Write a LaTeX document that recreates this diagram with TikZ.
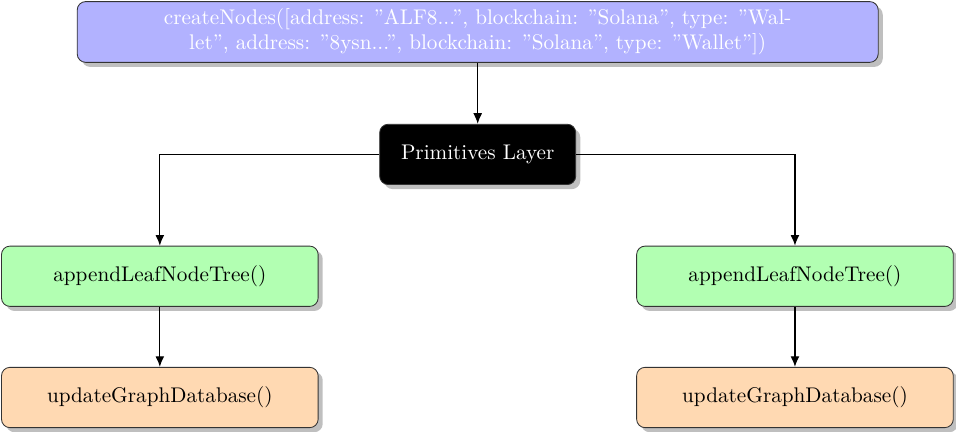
\documentclass[tikz,border=0pt]{standalone}
\usepackage{tikz}
\usetikzlibrary{shadows,arrows.meta}
\usepackage{xcolor}

\begin{document}
\begin{tikzpicture}
		[every node/.style={draw=black!80,rounded corners=4pt,drop shadow,align=center,minimum height=1cm},
		callbox/.style={fill=blue!30,text=white,minimum width=13.28cm},
		layerbox/.style={fill=black,text=white,minimum width=3.25cm},
		leafbox/.style={fill=green!30,minimum width=5.25cm},
		dbbox/.style={fill=orange!30,minimum width=5.25cm},
		link/.style={draw,semithick,-{Latex[length=5pt,width=4.2pt]}}]
		\useasboundingbox (0,0) rectangle (15.85,-7.15);
		\node[callbox] (call) at (7.92,-0.53) {createNodes([address: "ALF8...", blockchain: "Solana", type: "Wal-\\let", address: "8ysn...", blockchain: "Solana", type: "Wallet"])};
		\node[layerbox] (prim) at (7.92,-2.56) {Primitives Layer};
		\node[leafbox] (leafL) at (2.65,-4.58) {appendLeafNodeTree()};
		\node[leafbox] (leafR) at (13.18,-4.58) {appendLeafNodeTree()};
		\node[dbbox] (dbL) at (2.65,-6.59) {updateGraphDatabase()};
		\node[dbbox] (dbR) at (13.18,-6.59) {updateGraphDatabase()};
		% connectors
		\path[link] (call) -- (prim);
		\path[link] (prim.west) -| (leafL.north);
		\path[link] (prim.east) -| (leafR.north);
		\path[link] (leafL) -- (dbL);
		\path[link] (leafR) -- (dbR);
\end{tikzpicture}
\end{document}
